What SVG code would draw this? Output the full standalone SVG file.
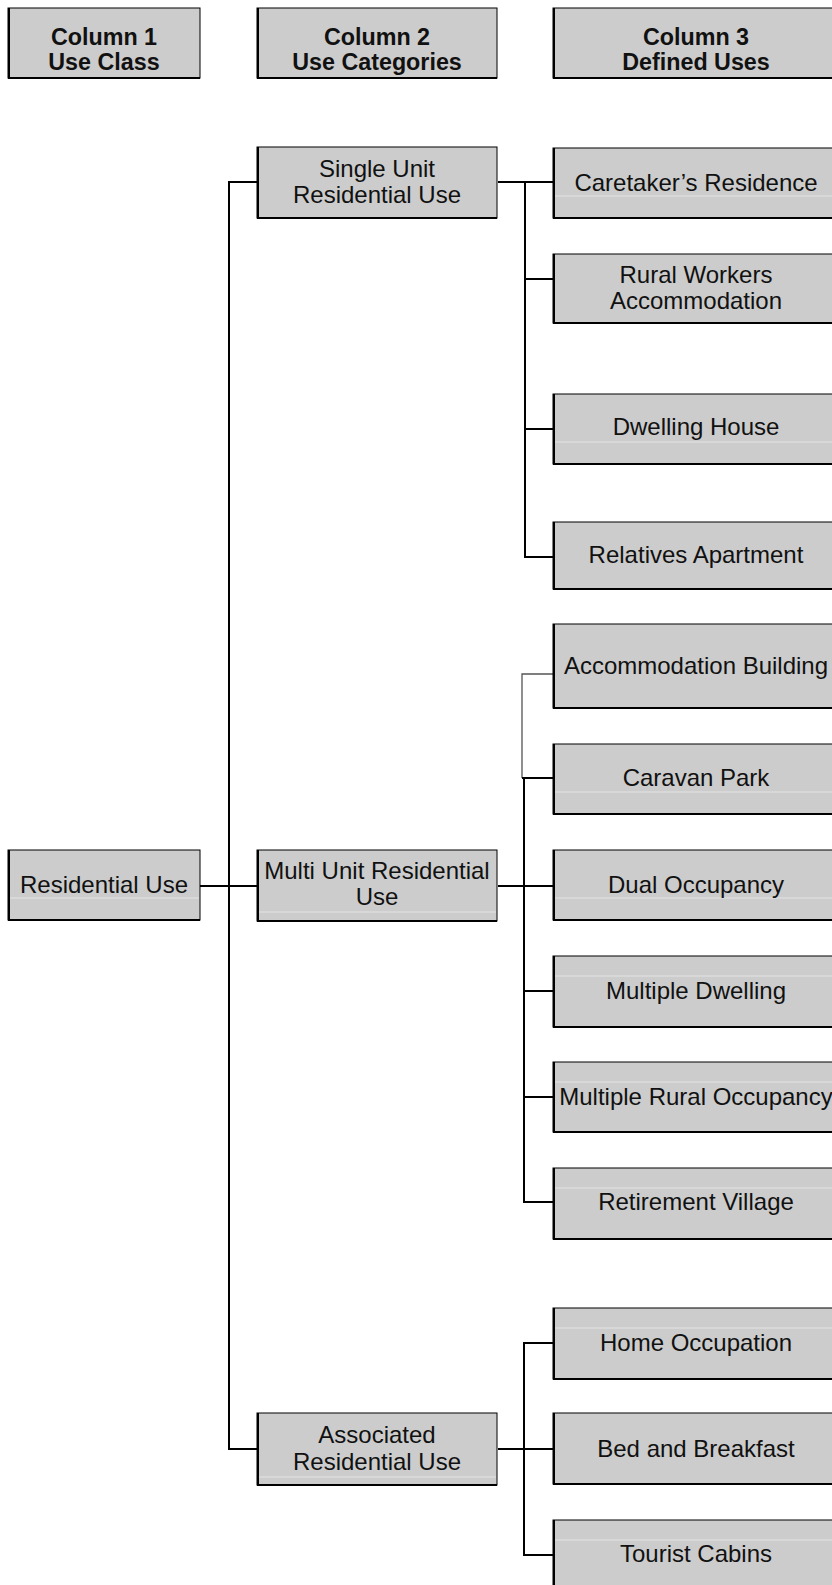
<svg xmlns="http://www.w3.org/2000/svg" width="832" height="1585" viewBox="0 0 832 1585">
  <style>
    .box { fill: #cccccc; stroke: #000; stroke-width: 1; }
    .edge { fill: none; stroke: #000; stroke-width: 2; }
    .sheen { stroke: #e4e4e4; stroke-width: 1; }
    .lbl { font-family: "Liberation Sans", Arial, sans-serif; font-size: 24px; fill: #111; text-anchor: middle; }
    .hdr { font-weight: bold; font-size: 23.3px; }
    .wire { fill: none; stroke: #000; stroke-width: 2; }
    .wire-soft { fill: none; stroke: #555; stroke-width: 1.3; }
  </style>

  <!-- column headings -->
  <g id="hdr-col1">
    <rect class="box" x="8" y="8" width="192" height="70"/>
    <path class="edge" d="M9 8 V78 H200"/>
    <text class="lbl hdr" x="104" y="45">Column 1</text>
    <text class="lbl hdr" x="104" y="70">Use Class</text>
  </g>
  <g id="hdr-col2">
    <rect class="box" x="257" y="8" width="240" height="70"/>
    <path class="edge" d="M258 8 V78 H497"/>
    <text class="lbl hdr" x="377" y="45">Column 2</text>
    <text class="lbl hdr" x="377" y="70">Use Categories</text>
  </g>
  <g id="hdr-col3">
    <rect class="box" x="553" y="8" width="290" height="70"/>
    <path class="edge" d="M554 8 V78 H843"/>
    <text class="lbl hdr" x="696" y="45">Column 3</text>
    <text class="lbl hdr" x="696" y="70">Defined Uses</text>
  </g>

  <!-- connectors -->
  <g id="connectors">
    <!-- use class trunk -->
    <path class="wire" d="M257 182 H229 V1449 H257"/>
    <path class="wire" d="M200 886 H257"/>
    <!-- single unit branch -->
    <path class="wire" d="M498 182 H553 M525 182 V557 H553 M525 279 H553 M525 429 H553"/>
    <!-- multi unit branch -->
    <path class="wire-soft" d="M553 674 H522 V778"/>
    <path class="wire" d="M522 778 H553 M524 778 V1202 H553 M498 886 H553 M524 991 H553 M524 1097 H553"/>
    <!-- associated branch -->
    <path class="wire" d="M553 1343 H524 V1555 H553 M498 1449 H553"/>
  </g>

  <!-- use class -->
  <g id="residential-use">
    <rect class="box" x="8" y="850" width="192" height="70"/>
    <line class="sheen" x1="10" y1="898" x2="199" y2="898"/>
    <path class="edge" d="M9 850 V920 H200"/>
    <text class="lbl" x="104" y="893">Residential Use</text>
  </g>

  <!-- use categories -->
  <g id="single-unit">
    <rect class="box" x="257" y="147" width="240" height="71"/>
    <path class="edge" d="M258 147 V218 H497"/>
    <text class="lbl" x="377" y="177">Single Unit</text>
    <text class="lbl" x="377" y="203">Residential Use</text>
  </g>
  <g id="multi-unit">
    <rect class="box" x="257" y="850" width="240" height="71"/>
    <line class="sheen" x1="259" y1="912" x2="496" y2="912"/>
    <path class="edge" d="M258 850 V921 H497"/>
    <text class="lbl" x="377" y="879">Multi Unit Residential</text>
    <text class="lbl" x="377" y="905">Use</text>
  </g>
  <g id="associated">
    <rect class="box" x="257" y="1413" width="240" height="72"/>
    <line class="sheen" x1="259" y1="1477" x2="496" y2="1477"/>
    <path class="edge" d="M258 1413 V1485 H497"/>
    <text class="lbl" x="377" y="1443">Associated</text>
    <text class="lbl" x="377" y="1470">Residential Use</text>
  </g>

  <!-- defined uses -->
  <g id="caretakers-residence">
    <rect class="box" x="553" y="148" width="290" height="70"/>
    <line class="sheen" x1="555" y1="196" x2="843" y2="196"/>
    <path class="edge" d="M554 148 V218 H843"/>
    <text class="lbl" x="696" y="191">Caretaker’s Residence</text>
  </g>
  <g id="rural-workers">
    <rect class="box" x="553" y="254" width="290" height="69"/>
    <path class="edge" d="M554 254 V323 H843"/>
    <text class="lbl" x="696" y="283">Rural Workers</text>
    <text class="lbl" x="696" y="309">Accommodation</text>
  </g>
  <g id="dwelling-house">
    <rect class="box" x="553" y="394" width="290" height="70"/>
    <line class="sheen" x1="555" y1="442" x2="843" y2="442"/>
    <path class="edge" d="M554 394 V464 H843"/>
    <text class="lbl" x="696" y="435">Dwelling House</text>
  </g>
  <g id="relatives-apartment">
    <rect class="box" x="553" y="522" width="290" height="67"/>
    <path class="edge" d="M554 522 V589 H843"/>
    <text class="lbl" x="696" y="563">Relatives Apartment</text>
  </g>
  <g id="accommodation-building">
    <rect class="box" x="553" y="624" width="290" height="84"/>
    <path class="edge" d="M554 624 V708 H843"/>
    <text class="lbl" x="696" y="674">Accommodation Building</text>
  </g>
  <g id="caravan-park">
    <rect class="box" x="553" y="744" width="290" height="70"/>
    <line class="sheen" x1="555" y1="792" x2="843" y2="792"/>
    <path class="edge" d="M554 744 V814 H843"/>
    <text class="lbl" x="696" y="786">Caravan Park</text>
  </g>
  <g id="dual-occupancy">
    <rect class="box" x="553" y="850" width="290" height="70"/>
    <line class="sheen" x1="555" y1="898" x2="843" y2="898"/>
    <path class="edge" d="M554 850 V920 H843"/>
    <text class="lbl" x="696" y="893">Dual Occupancy</text>
  </g>
  <g id="multiple-dwelling">
    <rect class="box" x="553" y="956" width="290" height="71"/>
    <line class="sheen" x1="555" y1="976" x2="843" y2="976"/>
    <path class="edge" d="M554 956 V1027 H843"/>
    <text class="lbl" x="696" y="999">Multiple Dwelling</text>
  </g>
  <g id="multiple-rural-occupancy">
    <rect class="box" x="553" y="1062" width="290" height="70"/>
    <line class="sheen" x1="555" y1="1082" x2="843" y2="1082"/>
    <path class="edge" d="M554 1062 V1132 H843"/>
    <text class="lbl" x="696" y="1105">Multiple Rural Occupancy</text>
  </g>
  <g id="retirement-village">
    <rect class="box" x="553" y="1168" width="290" height="71"/>
    <line class="sheen" x1="555" y1="1188" x2="843" y2="1188"/>
    <path class="edge" d="M554 1168 V1239 H843"/>
    <text class="lbl" x="696" y="1210">Retirement Village</text>
  </g>
  <g id="home-occupation">
    <rect class="box" x="553" y="1308" width="290" height="71"/>
    <line class="sheen" x1="555" y1="1328" x2="843" y2="1328"/>
    <path class="edge" d="M554 1308 V1379 H843"/>
    <text class="lbl" x="696" y="1351">Home Occupation</text>
  </g>
  <g id="bed-and-breakfast">
    <rect class="box" x="553" y="1413" width="290" height="71"/>
    <path class="edge" d="M554 1413 V1484 H843"/>
    <text class="lbl" x="696" y="1457">Bed and Breakfast</text>
  </g>
  <g id="tourist-cabins">
    <rect class="box" x="553" y="1520" width="290" height="72"/>
    <line class="sheen" x1="555" y1="1540" x2="843" y2="1540"/>
    <path class="edge" d="M554 1520 V1592"/>
    <text class="lbl" x="696" y="1562">Tourist Cabins</text>
  </g>
</svg>
